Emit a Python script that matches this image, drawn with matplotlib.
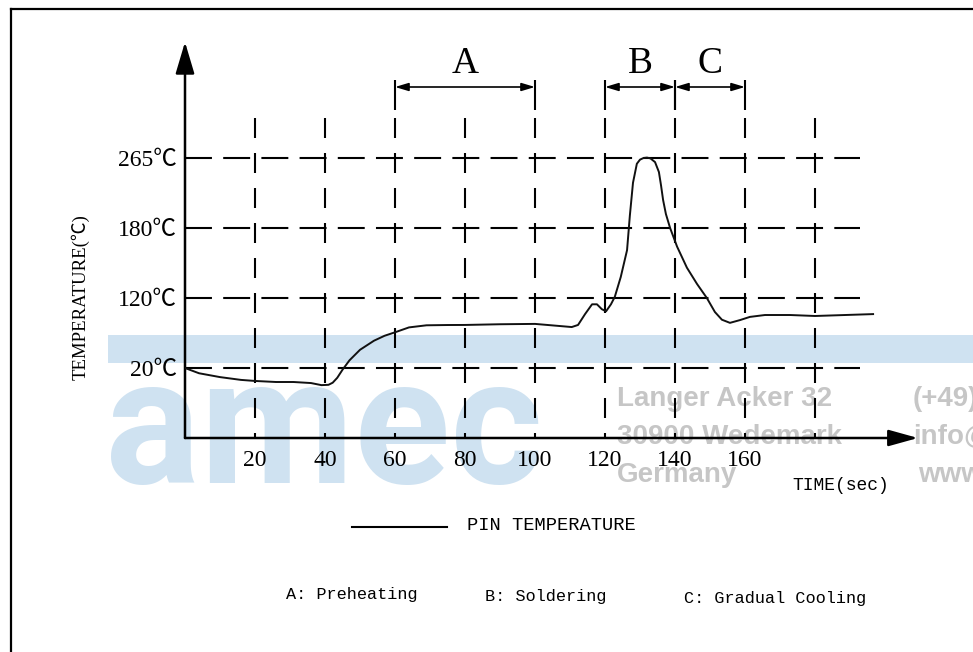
import numpy as np
import matplotlib
matplotlib.use("Agg")
import matplotlib.pyplot as plt
from matplotlib.lines import Line2D
from matplotlib.patches import Rectangle

plt.rcParams['lines.scale_dashes'] = False

# pin temperature profile (time in sec, temperature in deg C)
time_s = [0, 4, 10, 16, 20, 26, 31, 36, 39, 41, 42.2, 43.5, 45, 47, 50, 54, 57, 60,
          64, 69, 75, 80, 90, 100, 107, 110.5, 112.3, 114.3, 116.3, 117.7, 119.1,
          120.3, 121.7, 122.8, 124.5, 126.3, 127.1, 128, 129.1, 130, 131, 132,
          133, 134.3, 135.4, 136, 136.6, 137.4, 138.6, 140.6, 143.4, 146.3, 149.1,
          151.4, 153.4, 155.7, 158.6, 161.4, 165.7, 172.9, 180, 188.6, 196.6]
pin_temp = [20, 18.5, 17.4, 16.6, 16.3, 16.0, 16.0, 15.7, 15.1, 15.2, 15.8, 17.2,
            19.5, 31, 46, 59, 66, 71, 78, 81, 81.4, 81.5, 82.5, 83, 80, 78.5, 81.5,
            97, 111, 111, 104, 101, 111, 121, 138, 161, 195, 235, 258, 263, 265,
            265.5, 264.5, 260, 248, 232, 214, 197, 180, 164, 146, 132, 120, 100, 89,
            84.5, 88.5, 93, 95.7, 95.7, 94.3, 95.7, 97]

grid_temps = [20, 120, 180, 265]
grid_times = [20, 40, 60, 80, 100, 120, 140, 160, 180]
tick_times = [20, 40, 60, 80, 100, 120, 140, 160]
phase_names = ["A", "B", "C"]
phase_start = [60, 120, 140]
phase_end = [100, 140, 160]
phase_desc = ["A: Preheating", "B: Soldering", "C: Gradual Cooling"]

# the temperature axis is not linear: each labelled level is one grid step
scale_t = [0, 20, 120, 180, 265, 435]
scale_l = [0, 1, 2, 3, 4, 6]


def fwd(t):
    return np.interp(t, scale_t, scale_l)


def inv(l):
    return np.interp(l, scale_l, scale_t)


W, H = 973, 652
serif = ['Liberation Serif', 'Noto Sans CJK SC']
mono = ['Liberation Mono', 'Noto Sans CJK SC']

fig = plt.figure(figsize=(W / 100, H / 100), dpi=100)


def fx(px):
    return px / W


def fy(py):
    return 1 - py / H


# watermark (behind the drawing)
fig.add_artist(Rectangle((fx(108), fy(363)), 1 - fx(108), 28 / H,
                         transform=fig.transFigure, color='#cfe2f1', lw=0, zorder=-5))
fig.text(fx(105), fy(483), "amec", family=['Roboto', 'DejaVu Sans'], weight='bold',
         size=128, color='#cfe2f1', ha='left', va='baseline', zorder=-5)
grey = '#c6c6c6'
for txt, px, py in [("Langer Acker 32", 617, 406), ("30900 Wedemark", 617, 444),
                    ("Germany", 617, 482), ("(+49)", 913, 406), ("info@", 913, 444),
                    ("www", 918, 482)]:
    fig.text(fx(px), fy(py), txt, family=['Liberation Sans', 'DejaVu Sans'],
             weight='bold', size=20, color=grey, ha='left', va='baseline', zorder=-5)

# frame
fig.add_artist(Line2D([fx(11), fx(11)], [fy(9), 0], transform=fig.transFigure,
                      color='black', lw=1.6))
fig.add_artist(Line2D([fx(11), 1], [fy(9), fy(9)], transform=fig.transFigure,
                      color='black', lw=1.6))

ax = fig.add_axes([fx(185), fy(438), 733 / W, 396 / H])
ax.patch.set_visible(False)
ax.set_zorder(1)
ax.set_yscale('function', functions=(fwd, inv))
ax.set_xlim(0, 733 / 3.5)
ax.set_ylim(0, inv(396 / 70))
for s in ax.spines.values():
    s.set_visible(False)


def afrac(py):
    return (438 - py) / 396


xtr = ax.get_xaxis_transform()

# dashed grid
for t in grid_temps:
    ax.plot([0, 192.9], [t, t], color='black', lw=1.5, ls=(0, (19.4, 8.1)),
            solid_capstyle='butt', dash_capstyle='butt')
for s in grid_times:
    ax.plot([s, s], [afrac(118), 0], transform=xtr, color='black', lw=1.5,
            ls=(0, (14.4, 10.8)), dash_capstyle='butt')

# phase markers
for name, a, b in zip(phase_names, phase_start, phase_end):
    for s in (a, b):
        ax.plot([s, s], [afrac(80), afrac(110)], transform=xtr, color='black',
                lw=1.5, solid_capstyle='butt')
    ax.annotate('', xy=(a, afrac(87)), xytext=(b, afrac(87)), xycoords=xtr,
                textcoords=xtr, annotation_clip=False,
                arrowprops=dict(arrowstyle='<|-|>,head_length=0.5,head_width=0.15',
                                mutation_scale=16, lw=1.2, color='black',
                                shrinkA=0, shrinkB=0))
    ax.text((a + b) / 2, afrac(64), name, transform=xtr, ha='center', va='center',
            family=serif, size=27)

# axes with arrows
ax.annotate('', xy=(0, 1), xytext=(0, 0), xycoords='axes fraction',
            annotation_clip=False,
            arrowprops=dict(arrowstyle='-|>,head_length=1.95,head_width=0.58',
                            mutation_scale=10, lw=1.8, color='black',
                            shrinkA=0, shrinkB=0))
ax.annotate('', xy=(1, 0), xytext=(0, 0), xycoords='axes fraction',
            annotation_clip=False,
            arrowprops=dict(arrowstyle='-|>,head_length=1.8,head_width=0.5',
                            mutation_scale=10, lw=1.8, color='black',
                            shrinkA=0, shrinkB=0))

# profile curve
ax.plot(time_s, pin_temp, color='#111111', lw=1.4, zorder=3,
        solid_joinstyle='round')

ax.set_xticks(tick_times)
ax.set_xticklabels([str(t) for t in tick_times], family=serif, size=17)
ax.set_yticks(grid_temps)
ax.set_yticklabels([f"{t}\u2103" for t in grid_temps], family=serif, size=17)
ax.yaxis.set_minor_locator(plt.NullLocator())
ax.tick_params(length=0)
ax.tick_params(axis='x', pad=9)
ax.tick_params(axis='y', pad=5.5)

fig.text(fx(80), fy(297), "TEMPERATURE(\u2103)", rotation=90, ha='center',
         va='center', family=serif, size=13.5)
fig.text(fx(841), fy(486), "TIME(sec)", ha='center', va='center', family=mono, size=13)

# legend and phase description
fig.add_artist(Line2D([fx(352), fx(447)], [fy(527), fy(527)], transform=fig.transFigure,
                      color='black', lw=1.5))
fig.text(fx(467), fy(525), "PIN TEMPERATURE", ha='left', va='center', family=mono,
         size=13.5)
for txt, px, py in zip(phase_desc, [286, 485, 684], [594, 597, 599]):
    fig.text(fx(px), fy(py), txt, ha='left', va='center', family=mono, size=12.2)

fig.savefig('out.png', dpi=100)
